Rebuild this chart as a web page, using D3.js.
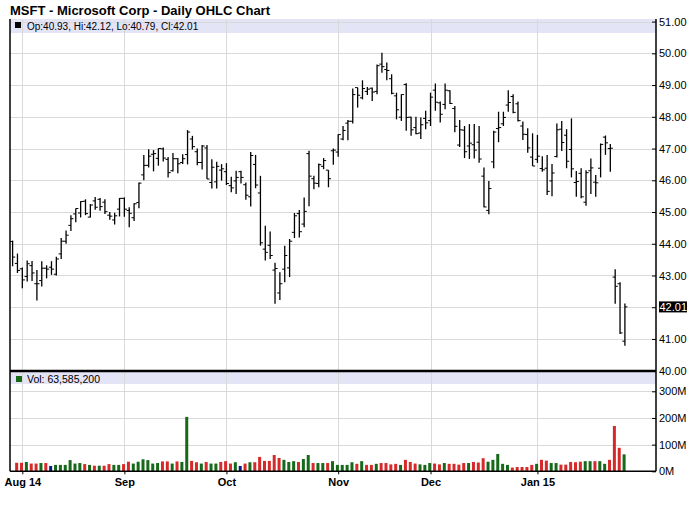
<!DOCTYPE html>
<html><head><meta charset="utf-8">
<script src="https://cdn.jsdelivr.net/npm/d3@7"></script>
<style>body{margin:0;background:#fff}svg{display:block;font-family:"Liberation Sans",Arial,sans-serif}</style>
</head><body><svg id="c" width="700" height="512"></svg>
<script>
const title = "MSFT - Microsoft Corp - Daily OHLC Chart";
const dates = [
"2014-07-30","2014-07-31",
"2014-08-01","2014-08-04","2014-08-05","2014-08-06","2014-08-07","2014-08-08","2014-08-11","2014-08-12","2014-08-13","2014-08-14","2014-08-15","2014-08-18","2014-08-19","2014-08-20","2014-08-21","2014-08-22","2014-08-25","2014-08-26","2014-08-27","2014-08-28","2014-08-29",
"2014-09-02","2014-09-03","2014-09-04","2014-09-05","2014-09-08","2014-09-09","2014-09-10","2014-09-11","2014-09-12","2014-09-15","2014-09-16","2014-09-17","2014-09-18","2014-09-19","2014-09-22","2014-09-23","2014-09-24","2014-09-25","2014-09-26","2014-09-29","2014-09-30",
"2014-10-01","2014-10-02","2014-10-03","2014-10-06","2014-10-07","2014-10-08","2014-10-09","2014-10-10","2014-10-13","2014-10-14","2014-10-15","2014-10-16","2014-10-17","2014-10-20","2014-10-21","2014-10-22","2014-10-23","2014-10-24","2014-10-27","2014-10-28","2014-10-29","2014-10-30","2014-10-31",
"2014-11-03","2014-11-04","2014-11-05","2014-11-06","2014-11-07","2014-11-10","2014-11-11","2014-11-12","2014-11-13","2014-11-14","2014-11-17","2014-11-18","2014-11-19","2014-11-20","2014-11-21","2014-11-24","2014-11-25","2014-11-26","2014-11-28",
"2014-12-01","2014-12-02","2014-12-03","2014-12-04","2014-12-05","2014-12-08","2014-12-09","2014-12-10","2014-12-11","2014-12-12","2014-12-15","2014-12-16","2014-12-17","2014-12-18","2014-12-19","2014-12-22","2014-12-23","2014-12-24","2014-12-26","2014-12-29","2014-12-30","2014-12-31",
"2015-01-02","2015-01-05","2015-01-06","2015-01-07","2015-01-08","2015-01-09","2015-01-12","2015-01-13","2015-01-14","2015-01-15","2015-01-16","2015-01-20","2015-01-21","2015-01-22","2015-01-23","2015-01-26","2015-01-27","2015-01-28","2015-01-29"];
const open = [44.07,43.38,43.21,42.97,43.31,42.74,42.84,43.23,43.26,43.04,43.68,44.08,44.58,44.94,44.97,45.34,44.84,45.35,45.40,45.31,44.90,44.75,45.09,
45.43,45.05,44.82,45.30,46.17,46.47,46.82,46.69,46.99,46.66,46.30,46.68,46.56,46.81,47.30,46.90,46.56,47.02,45.93,45.95,46.32,
46.27,45.83,45.98,46.27,45.86,45.48,46.50,45.60,43.83,43.95,43.17,42.45,43.20,43.24,44.36,44.95,44.62,46.84,46.05,45.90,46.44,46.32,46.93,
46.89,47.30,47.80,47.86,48.92,48.60,48.80,48.90,48.80,49.66,49.49,49.20,48.66,47.99,49.02,47.99,47.66,47.49,47.95,
47.88,48.84,48.44,48.39,48.82,48.26,47.11,47.58,47.08,47.12,47.20,46.13,45.05,46.58,47.63,47.78,48.37,48.64,48.41,47.71,47.44,46.73,
46.66,46.37,46.38,45.98,46.75,47.61,47.42,46.97,45.93,46.22,45.31,46.30,45.94,46.38,47.36,47.00,42.95,42.74,40.93];
const high = [44.10,43.69,43.25,43.47,43.46,43.17,43.45,43.32,43.45,43.59,44.18,44.42,44.90,45.11,45.34,45.40,45.25,45.47,45.44,45.40,45.00,44.98,45.44,
45.46,45.15,45.28,45.93,46.80,46.98,46.95,47.01,47.03,46.73,46.86,46.70,46.82,47.58,47.40,47.00,47.11,47.11,46.66,46.58,46.51,
46.54,46.11,46.30,46.30,45.93,46.89,46.80,46.14,44.57,44.39,43.40,43.10,43.94,44.15,44.97,45.06,45.46,46.93,46.14,46.53,46.70,46.32,47.00,
47.45,47.71,47.90,48.89,48.92,49.15,48.94,48.92,49.65,50.02,49.71,49.34,48.76,48.71,49.06,48.00,48.00,47.98,48.19,
48.76,49.05,48.48,49.05,48.84,48.34,47.90,47.71,47.77,47.77,47.71,46.40,45.98,47.56,48.16,48.16,48.84,48.71,48.48,47.85,47.64,47.48,
47.43,46.76,46.80,46.51,47.79,47.87,47.61,47.95,46.29,46.38,46.32,46.69,46.17,47.16,47.41,47.14,43.20,42.79,42.12];
const low = [43.29,43.08,42.60,42.81,42.83,42.21,42.65,42.91,43.02,43.00,43.52,44.00,44.40,44.68,44.83,44.90,44.83,45.07,45.04,44.94,44.76,44.61,44.86,
44.85,44.52,44.72,45.12,46.00,46.40,46.28,46.46,46.59,46.09,46.28,46.22,46.51,46.50,46.97,46.47,46.34,46.04,45.74,45.74,45.99,
45.85,45.62,45.57,45.90,45.39,45.17,45.75,43.94,43.47,43.52,42.11,42.23,42.79,42.95,44.18,44.20,44.52,45.18,45.72,45.78,46.35,45.78,46.49,
46.74,47.26,47.26,47.79,48.29,48.55,48.69,48.50,48.71,49.39,49.15,48.71,47.92,47.87,47.56,47.40,47.45,47.30,47.61,
47.71,48.19,47.82,48.24,48.40,47.51,47.05,46.70,46.67,46.69,46.55,45.15,44.93,46.38,47.20,47.71,48.16,48.11,47.85,47.27,46.87,46.45,
46.55,46.27,45.54,45.50,46.72,46.92,46.38,46.09,45.48,45.43,45.20,45.57,45.48,46.09,46.80,46.27,42.11,41.16,40.79];
const close = [43.58,43.16,42.86,43.37,43.08,42.74,43.23,43.20,43.20,43.52,44.08,44.27,44.79,45.11,45.33,44.95,45.22,45.15,45.17,45.01,44.87,44.88,45.43,
45.09,44.96,45.26,45.91,46.47,46.76,46.84,47.00,46.70,46.24,46.68,46.52,46.68,47.52,47.06,46.56,47.08,46.04,46.41,46.44,46.36,
45.90,45.76,46.09,46.09,45.53,46.78,45.85,44.03,43.73,43.63,43.22,42.74,43.63,44.08,44.88,44.38,45.02,46.13,45.91,46.49,46.62,46.05,46.95,
47.44,47.57,47.86,48.70,48.68,48.89,48.87,48.78,49.61,49.58,49.46,48.74,48.22,48.70,47.98,47.59,47.47,47.75,47.81,
48.62,48.46,48.08,48.84,48.42,47.70,47.59,46.90,47.17,46.95,46.67,45.16,45.74,47.52,47.66,47.98,48.45,48.14,47.88,47.45,47.02,46.45,
46.76,46.33,45.65,46.23,47.59,47.19,46.60,46.36,45.96,45.48,46.24,46.39,45.92,47.13,47.18,47.01,42.66,41.19,42.01];
// volume in millions of shares
const volume = [31,32,32,35,29,29,31,31,20,24,24,24,42,29,31,27,24,21,21,21,27,24,24,
27,36,29,36,45,42,29,31,37,37,29,37,35,204,39,34,29,35,29,29,35,
38,29,34,20,29,34,34,54,39,39,61,50,43,35,38,35,46,61,31,31,31,31,38,
24,24,24,34,28,38,24,24,28,31,31,26,28,24,43,35,29,26,24,
31,29,26,31,28,28,25,31,31,35,33,49,36,43,65,28,24,14,16,16,16,24,
28,43,40,31,31,25,25,35,34,36,38,38,38,38,28,43,170,88,63.5852];
const lastVolume = 63585200;
const monthTicks = ["2014-08-01","2014-09-02","2014-10-01","2014-11-03","2014-12-01","2015-01-02"];
const monthLabels = ["Aug 14","Sep","Oct","Nov","Dec","Jan 15"];
const priceTicks = [40,41,42,43,44,45,46,47,48,49,50,51];
const volTicks = [0,100,200,300];

const svg = d3.select("#c");
const L = 10, R = 656, TOP = 19, MAINB = 371, VTOP = 372, VB = 471.3;
const grid = "#d9d9d9", band = "#e4e4f7";
const UP = "#17691a", DOWN = "#d62a2a", FLAT = "#0a1a80";

const x = d3.scalePoint().domain(dates).range([12.6, 624.9]);
const y = d3.scaleLinear().domain([40, 51]).range([370.7, 21.6]);
const yv = d3.scaleLinear().domain([0, 300]).range([VB, 391.3]);

svg.append("defs").append("clipPath").attr("id", "vclip")
  .append("rect").attr("x", 14).attr("y", VTOP).attr("width", R - 14).attr("height", VB - VTOP);

// title
svg.append("text").attr("x", 10).attr("y", 15).attr("font-size", 13).attr("font-weight", "bold").text(title);

// bands
svg.append("rect").attr("x", L).attr("y", TOP).attr("width", R - L).attr("height", 14).attr("fill", band);
svg.append("rect").attr("x", L).attr("y", VTOP).attr("width", R - L).attr("height", 12).attr("fill", band);

// grid
const g = svg.append("g").attr("stroke", grid).attr("stroke-width", 1).attr("shape-rendering", "crispEdges");
g.selectAll(".hp").data(priceTicks.filter(p => p > 40)).join("line")
  .attr("x1", L).attr("x2", R).attr("y1", d => Math.round(y(d)) + 0.5).attr("y2", d => Math.round(y(d)) + 0.5);
g.selectAll(".hv").data(volTicks.filter(v => v > 0)).join("line").attr("class", "hv")
  .attr("x1", L).attr("x2", R).attr("y1", d => Math.round(yv(d)) + 0.5).attr("y2", d => Math.round(yv(d)) + 0.5);
g.selectAll(".vx").data(monthTicks).join("line").attr("class", "vx")
  .attr("x1", d => Math.round(x(d)) + 0.5).attr("x2", d => Math.round(x(d)) + 0.5).attr("y1", TOP).attr("y2", VB);

// legends
const lastI = dates.length - 1;
svg.append("rect").attr("x", 15).attr("y", 22).attr("width", 6).attr("height", 6).attr("fill", "#000");
svg.append("text").attr("x", 27).attr("y", 29.5).attr("font-size", 10)
  .text(`Op:${open[lastI].toFixed(2)}, Hi:${high[lastI].toFixed(2)}, Lo:${low[lastI].toFixed(2)}, Cl:${close[lastI].toFixed(2)}`);
svg.append("rect").attr("x", 16).attr("y", 376).attr("width", 6).attr("height", 6).attr("fill", UP);
svg.append("text").attr("x", 27).attr("y", 383).attr("font-size", 10.5).text("Vol: " + d3.format(",")(lastVolume));

// OHLC bars
const idx = d3.range(dates.length);
const bars = svg.append("g").attr("stroke", "#000");
bars.selectAll(".hl").data(idx).join("line")
  .attr("x1", i => x(dates[i])).attr("x2", i => x(dates[i]))
  .attr("y1", i => y(high[i])).attr("y2", i => y(low[i])).attr("stroke-width", 1.3);
bars.selectAll(".op").data(idx).join("line").attr("class", "op")
  .attr("x1", i => x(dates[i]) - 2.6).attr("x2", i => x(dates[i]))
  .attr("y1", i => y(open[i])).attr("y2", i => y(open[i])).attr("stroke-width", 1);
bars.selectAll(".cl").data(idx).join("line").attr("class", "cl")
  .attr("x1", i => x(dates[i])).attr("x2", i => x(dates[i]) + 2.6)
  .attr("y1", i => y(close[i])).attr("y2", i => y(close[i])).attr("stroke-width", 1);

// volume bars
svg.append("g").attr("clip-path", "url(#vclip)").selectAll("rect").data(idx).join("rect")
  .attr("x", i => x(dates[i]) - 2.3).attr("width", 3)
  .attr("y", i => yv(volume[i])).attr("height", i => VB - yv(volume[i]))
  .attr("fill", i => i === 0 ? DOWN : (close[i] > close[i - 1] ? UP : close[i] < close[i - 1] ? DOWN : FLAT));

// borders
const b = svg.append("g").attr("stroke", "#000");
b.append("line").attr("x1", L).attr("x2", L).attr("y1", TOP).attr("y2", VB).attr("stroke-width", 1.5);
b.append("line").attr("x1", R).attr("x2", R).attr("y1", TOP).attr("y2", VB).attr("stroke-width", 1.5);
b.append("line").attr("x1", L).attr("x2", R).attr("y1", MAINB).attr("y2", MAINB).attr("stroke-width", 2.5);
b.append("line").attr("x1", L).attr("x2", R).attr("y1", VB).attr("y2", VB).attr("stroke-width", 1.5);

// right price axis
const ay = svg.append("g").attr("transform", `translate(${R},0)`)
  .call(d3.axisRight(y).tickValues(priceTicks).tickFormat(d3.format(".2f")).tickSizeInner(-4).tickSizeOuter(0).tickPadding(3));
ay.select(".domain").remove();
ay.selectAll("text").attr("font-size", 11).attr("font-family", null).attr("fill", "#000");
ay.selectAll("line").attr("stroke", "#000");

// right volume axis
const av = svg.append("g").attr("transform", `translate(${R},0)`)
  .call(d3.axisRight(yv).tickValues(volTicks).tickFormat(d => d + "M").tickSizeInner(-4).tickSizeOuter(0).tickPadding(3));
av.select(".domain").remove();
av.selectAll("text").attr("font-size", 11).attr("font-family", null).attr("fill", "#000");
av.selectAll("line").attr("stroke", "#000");

// last close marker
const lc = close[lastI];
svg.append("rect").attr("x", R + 3).attr("y", y(lc) - 5.5).attr("width", 28).attr("height", 11).attr("fill", "#000");
svg.append("text").attr("x", R + 3.5).attr("y", y(lc)).attr("dy", "0.35em").attr("font-size", 11).attr("fill", "#fff").text(lc.toFixed(2));

// bottom date axis
const ax = svg.append("g").attr("transform", `translate(0,${VB})`)
  .call(d3.axisBottom(x).tickValues(monthTicks).tickFormat((d, i) => monthLabels[i]).tickSizeInner(3).tickSizeOuter(0).tickPadding(4));
ax.select(".domain").remove();
ax.selectAll("text").attr("font-size", 11).attr("font-weight", "bold").attr("font-family", null).attr("fill", "#000");
ax.selectAll("line").attr("stroke", "#000");
</script></body></html>
